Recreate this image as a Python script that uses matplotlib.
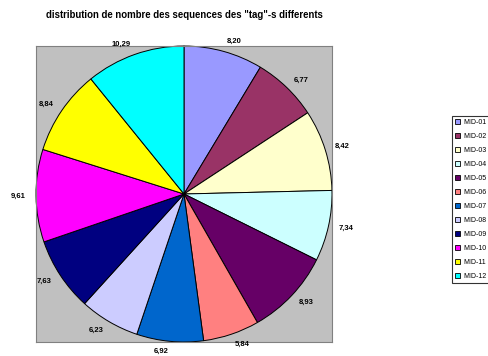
import matplotlib.pyplot as plt
from matplotlib.patches import Patch

# share of sequences per tag group
groups = ["MID-01", "MID-02", "MID-03", "MID-04", "MID-05", "MID-06",
          "MID-07", "MID-08", "MID-09", "MID-10", "MID-11", "MID-12"]
shares = [8.20, 6.77, 8.42, 7.34, 8.93, 5.84, 6.92, 6.23, 7.63, 9.61, 8.84, 10.29]
colors = ["#9999FF", "#993366", "#FFFFCC", "#CCFFFF", "#660066", "#FF8080",
          "#0066CC", "#CCCCFF", "#000080", "#FF00FF", "#FFFF00", "#00FFFF"]

W, H = 488, 356
fig = plt.figure(figsize=(W / 100, H / 100), dpi=100)
fig.patch.set_facecolor("white")

# square plot area in pixels: left, top, size
px_left, px_top, px_size = 36, 46, 296
ax = fig.add_axes([px_left / W, 1 - (px_top + px_size) / H, px_size / W, px_size / H])
ax.set_facecolor("#C0C0C0")
for sp in ax.spines.values():
    sp.set_color("#808080")
    sp.set_linewidth(0.8)

labels = [f"{v:.2f}".replace(".", ",") for v in shares]
wedges, texts = ax.pie(
    shares,
    colors=colors,
    labels=labels,
    startangle=90,
    counterclock=False,
    radius=1.0,
    labeldistance=1.07,
    wedgeprops=dict(edgecolor="black", linewidth=0.7),
    textprops=dict(fontsize=5.5, fontweight="bold", family="Liberation Sans"),
    frame=True,
)
ax.set_xlim(-1, 1)
ax.set_ylim(-1, 1)
ax.set_xticks([])
ax.set_yticks([])
ax.set_aspect("auto")
for t in texts:
    t.set_clip_on(False)

fig.text((px_left + px_size / 2) / W, 1 - 15.5 / H,
         'distribution de nombre des sequences des "tag"-s differents',
         ha="center", va="center", fontsize=6.9, fontweight="bold",
         family="Liberation Sans")

handles = [Patch(facecolor=c, edgecolor="black", linewidth=0.6) for c in colors]
leg = fig.legend(
    handles, groups,
    loc="upper left",
    bbox_to_anchor=(452 / W, 1 - 116 / H),
    prop=dict(family="Liberation Sans", size=5),
    frameon=True,
    fancybox=False,
    handlelength=0.75,
    handleheight=0.75,
    handletextpad=0.45,
    labelspacing=1.0,
    borderpad=0.45,
    borderaxespad=0,
)
leg.get_frame().set_edgecolor("black")
leg.get_frame().set_linewidth(0.8)

fig.savefig("out.png", dpi=100)
